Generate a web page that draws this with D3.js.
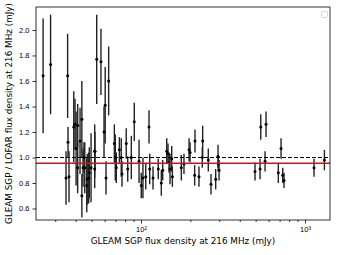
<!DOCTYPE html>
<html lang="en">
  <head>
    <meta charset="UTF-8" />
    <title>GLEAM SGP / LOFAR ratio</title>
    <script src="https://cdn.jsdelivr.net/npm/d3@7"></script>
    <style>
      body { margin: 0; background: #fff; }
      svg { display: block; font-family: "DejaVu Sans", sans-serif; }
    </style>
  </head>

  <body>
    <script>
      // GLEAM SGP flux density at 216 MHz (mJy)
      const fluxes = [
        25.3, 28.1, 35.7, 38.9, 40.2, 35.9, 34.9, 36.4, 41.1, 42.5,
        43.6, 44.3, 43.6, 44.9, 53.7, 57.0, 60.5, 63.5, 59.5, 52.2,
        52.2, 48.0, 45.4, 46.7, 49.6, 61.2, 68.8, 69.7, 70.7, 73.8,
        75.8, 76.6, 81.3, 83.0, 87.3, 91.0, 97.3, 100.4, 102.8, 106.9,
        111.9, 113.0, 118.4, 127.4, 133.0, 135.6, 143.5, 146.1, 148.2, 150.3,
        153.9, 155.3, 176.1, 182.8, 196.3, 199.1, 213.4, 212.4, 225.7, 237.7,
        236.4, 257.2, 267.2, 285.3, 294.9, 296.0, 299.2, 495.6, 532.1, 537.3,
        570.5, 578.5, 687.5, 714.2, 731.1, 744.7, 1135, 1313, 41.1, 47.0,
        48.4, 52.4, 39.6
      ];
      // GLEAM SGP / LOFAR flux ratio
      const ratios = [
        1.64, 1.73, 1.64, 1.24, 1.07, 1.12, 0.84, 0.85, 1.25, 1.13,
        1.30, 0.92, 0.70, 1.00, 1.77, 1.75, 1.41, 1.60, 1.20, 1.05,
        0.91, 0.84, 0.92, 0.78, 0.92, 0.84, 1.11, 1.00, 0.92, 1.06,
        1.00, 0.87, 1.11, 0.91, 1.00, 1.28, 0.97, 0.78, 0.84, 0.85,
        1.24, 0.91, 0.84, 0.91, 0.80, 0.90, 1.05, 1.03, 0.96, 0.91,
        0.99, 0.85, 0.92, 0.95, 1.06, 1.04, 1.13, 0.86, 0.85, 1.13,
        1.00, 0.98, 0.79, 0.83, 1.01, 0.95, 0.90, 0.89, 0.91, 1.24,
        0.97, 1.26, 0.88, 1.07, 0.86, 0.82, 0.92, 0.98, 0.92, 0.83,
        0.88, 1.05, 1.26
      ];
      // 1-sigma uncertainty on the ratio
      const errors = [
        0.45, 0.39, 0.33, 0.28, 0.29, 0.12, 0.21, 0.20, 0.17, 0.26,
        0.30, 0.15, 0.17, 0.12, 0.35, 0.26, 0.30, 0.27, 0.20, 0.21,
        0.15, 0.20, 0.20, 0.21, 0.27, 0.13, 0.15, 0.18, 0.12, 0.10,
        0.15, 0.10, 0.12, 0.10, 0.17, 0.15, 0.17, 0.10, 0.16, 0.10,
        0.13, 0.12, 0.09, 0.08, 0.10, 0.08, 0.10, 0.08, 0.08, 0.12,
        0.10, 0.08, 0.10, 0.08, 0.09, 0.08, 0.09, 0.08, 0.08, 0.12,
        0.08, 0.09, 0.08, 0.08, 0.09, 0.06, 0.08, 0.07, 0.08, 0.10,
        0.08, 0.10, 0.08, 0.08, 0.06, 0.06, 0.07, 0.08, 0.20, 0.20,
        0.20, 0.15, 0.20
      ];
      const yTicks = [0.6, 0.8, 1.0, 1.2, 1.4, 1.6, 1.8, 2.0];
      const xMajorTicks = [100, 1000];
      const xMinorTicks = [30, 40, 50, 60, 70, 80, 90, 200, 300, 400, 500, 600, 700, 800, 900];
      const unityRatio = 1.0;
      const meanRatio = 0.955;

      const data = fluxes.map((f, i) => ({ f, r: ratios[i], e: errors[i] }));

      const width = 339;
      const height = 255;
      const margin = { top: 7, right: 9, bottom: 35, left: 36 };

      const svg = d3
        .select("body")
        .append("svg")
        .attr("width", width)
        .attr("height", height);

      const x = d3
        .scaleLog()
        .domain([22.9, 1420])
        .range([margin.left, width - margin.right]);

      const y = d3
        .scaleLinear()
        .domain([0.51, 2.18])
        .range([height - margin.bottom, margin.top]);

      const plotBottom = height - margin.bottom;

      // x axis: major + minor ticks
      const xAxis = svg
        .append("g")
        .attr("transform", `translate(0,${plotBottom})`)
        .call(
          d3
            .axisBottom(x)
            .tickValues(xMajorTicks)
            .tickSize(3.5)
            .tickFormat((d) => "10" + (d === 100 ? "²" : "³"))
        );
      xAxis.selectAll("text").attr("font-size", 7.5).attr("fill", "#000");

      svg
        .append("g")
        .attr("transform", `translate(0,${plotBottom})`)
        .call(d3.axisBottom(x).tickValues(xMinorTicks).tickSize(2).tickFormat(""));

      const yAxis = svg
        .append("g")
        .attr("transform", `translate(${margin.left},0)`)
        .call(d3.axisLeft(y).tickValues(yTicks).tickSize(3.5).tickFormat(d3.format(".1f")));
      yAxis.selectAll("text").attr("font-size", 7.5).attr("fill", "#000");

      svg.selectAll(".domain").remove();
      svg.selectAll(".tick line").attr("stroke", "#000").attr("stroke-width", 0.8);

      // error bars
      svg
        .append("g")
        .selectAll("line")
        .data(data)
        .join("line")
        .attr("x1", (d) => x(d.f))
        .attr("x2", (d) => x(d.f))
        .attr("y1", (d) => y(d.r - d.e))
        .attr("y2", (d) => y(d.r + d.e))
        .attr("stroke", "#222")
        .attr("stroke-width", 1.4);

      // points
      svg
        .append("g")
        .selectAll("circle")
        .data(data)
        .join("circle")
        .attr("cx", (d) => x(d.f))
        .attr("cy", (d) => y(d.r))
        .attr("r", 1.5)
        .attr("fill", "#000");

      // reference lines
      svg
        .append("line")
        .attr("x1", margin.left)
        .attr("x2", width - margin.right)
        .attr("y1", y(unityRatio))
        .attr("y2", y(unityRatio))
        .attr("stroke", "#000")
        .attr("stroke-width", 1.2)
        .attr("stroke-dasharray", "4,2");

      svg
        .append("line")
        .attr("x1", margin.left)
        .attr("x2", width - margin.right)
        .attr("y1", y(meanRatio))
        .attr("y2", y(meanRatio))
        .attr("stroke", "#ff0000")
        .attr("stroke-width", 1.4);

      // frame
      svg
        .append("rect")
        .attr("x", margin.left)
        .attr("y", margin.top)
        .attr("width", width - margin.left - margin.right)
        .attr("height", plotBottom - margin.top)
        .attr("fill", "none")
        .attr("stroke", "#000")
        .attr("stroke-width", 0.8);

      // empty legend box
      svg
        .append("rect")
        .attr("x", 321.5)
        .attr("y", 11.5)
        .attr("width", 6)
        .attr("height", 6)
        .attr("rx", 1)
        .attr("fill", "#fff")
        .attr("stroke", "#ccc")
        .attr("stroke-width", 0.8);

      // axis labels
      svg
        .append("text")
        .attr("x", (margin.left + width - margin.right) / 2)
        .attr("y", 244)
        .attr("text-anchor", "middle")
        .attr("font-size", 8.8)
        .text("GLEAM SGP flux density at 216 MHz (mJy)");

      svg
        .append("text")
        .attr("transform", `translate(12,${(margin.top + plotBottom) / 2}) rotate(-90)`)
        .attr("text-anchor", "middle")
        .attr("font-size", 8.8)
        .text("GLEAM SGP / LOFAR flux density at 216 MHz (mJy)");
    </script>
  </body>
</html>
